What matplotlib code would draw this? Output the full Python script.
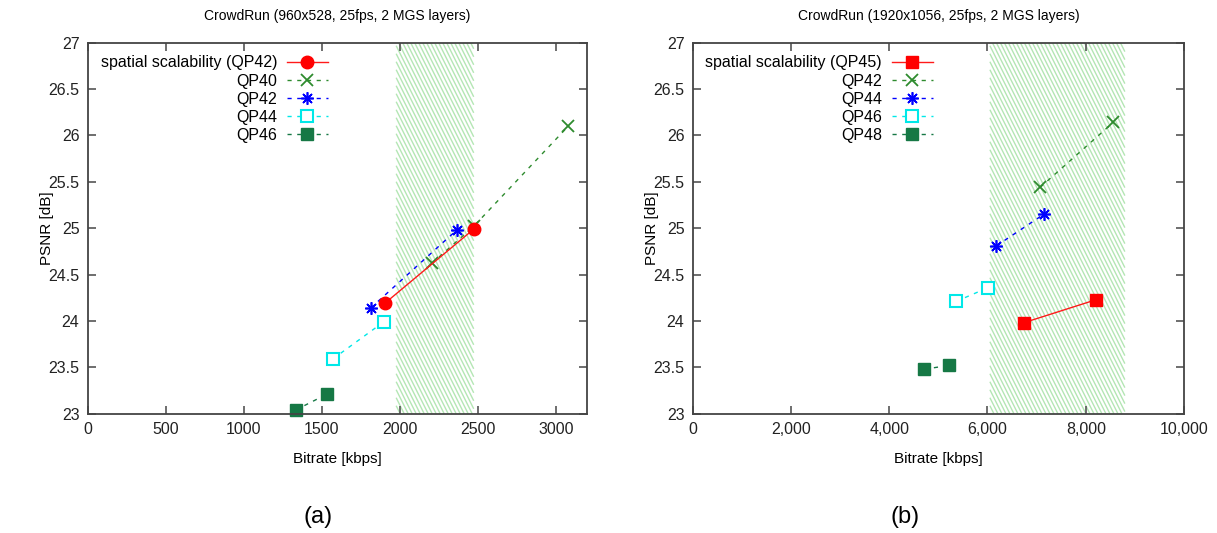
import matplotlib
matplotlib.use("Agg")
import numpy as np
import matplotlib.pyplot as plt
from matplotlib.collections import LineCollection
from matplotlib.ticker import FuncFormatter, MultipleLocator

plt.rcParams['font.family'] = ['Liberation Sans', 'DejaVu Sans']

# (a) CrowdRun 960x528: bitrate [kbps] and PSNR [dB]
a_labels = ['spatial scalability (QP42)', 'QP40', 'QP42', 'QP44', 'QP46']
a_rate = [
    [1904, 2474],
    [2205, 2474, 3080],
    [1814, 2365],
    [1571, 1897],
    [1333, 1532],
]
a_psnr = [
    [24.19, 24.99],
    [24.62, 25.02, 26.10],
    [24.14, 24.98],
    [23.59, 23.99],
    [23.04, 23.21],
]
a_band = (1977, 2474)

# (b) CrowdRun 1920x1056
b_labels = ['spatial scalability (QP45)', 'QP42', 'QP44', 'QP46', 'QP48']
b_rate = [
    [6733, 8215],
    [7071, 8557],
    [6182, 7145],
    [5360, 6014],
    [4713, 5212],
]
b_psnr = [
    [23.98, 24.23],
    [25.44, 26.14],
    [24.81, 25.15],
    [24.21, 24.36],
    [23.48, 23.52],
]
b_band = (6049, 8796)

dash = (0, (3, 4))
qp_styles = [
    dict(color='#2e8b2e', ls=dash, marker='x', ms=9, mew=1.3),
    dict(color='#0000ff', ls=dash, marker=(8, 2, 0), ms=9, mew=1.2),
    dict(color='#00e8e8', ls=dash, marker='s', ms=8, mfc='white', mew=1.5),
    dict(color='#167845', ls=dash, marker='s', ms=8.5, mfc='#167845', mec='#167845'),
]
a_styles = [dict(color='#ff1a1a', ls='-', marker='o', ms=9, mfc='#ff0000',
                 mec='#ff0000', zorder=5)] + qp_styles
b_styles = [dict(color='#ff1a1a', ls='-', marker='s', ms=8.5, mfc='#ff0000',
                 mec='#ff0000', zorder=5)] + qp_styles


def striped_band(ax, x0, x1, xmax):
    # steep light-green stripes filling the band, spaced in pixels
    box = ax.get_window_extent()
    upx = xmax / box.width          # data units per pixel
    drift = 0.5 * box.height * upx  # horizontal shift from top to bottom
    step = 4.0 * upx
    segs = []
    for s in np.arange(x0 - drift, x1 + step, step):
        t0 = max(0.0, (x0 - s) / drift)
        t1 = min(1.0, (x1 - s) / drift)
        if t1 <= t0:
            continue
        segs.append([(s + drift * t0, 1 - t0), (s + drift * t1, 1 - t1)])
    lc = LineCollection(segs, colors='#b4e6b4', linewidths=1.0,
                        transform=ax.get_xaxis_transform(), zorder=0)
    ax.add_collection(lc, autolim=False)


def draw_panel(ax, title, labels, rates, psnrs, styles, band, xmax, xstep, comma):
    ax.set_xlim(0, xmax)
    ax.set_ylim(23, 27)
    striped_band(ax, band[0], band[1], xmax)
    for lab, x, y, st in zip(labels, rates, psnrs, styles):
        ax.plot(x, y, lw=1.0, label=lab, clip_on=False, **st)
    ax.set_xlim(0, xmax)
    ax.set_ylim(23, 27)
    ax.xaxis.set_major_locator(MultipleLocator(xstep))
    ax.yaxis.set_major_locator(MultipleLocator(0.5))
    if comma:
        ax.xaxis.set_major_formatter(FuncFormatter(lambda v, p: f'{v:,.0f}'))
    else:
        ax.xaxis.set_major_formatter(FuncFormatter(lambda v, p: f'{v:.0f}'))
    ax.yaxis.set_major_formatter(FuncFormatter(lambda v, p: f'{v:g}'))
    ax.tick_params(direction='in', length=6, width=1.2, color='#555555',
                   top=True, right=True, labelsize=11.5, labelcolor='#222222', pad=6)
    for s in ax.spines.values():
        s.set_color('#444444')
        s.set_linewidth(1.3)
    ax.set_title(title, fontsize=10, pad=16)
    ax.set_xlabel('Bitrate [kbps]', fontsize=11, labelpad=11)
    ax.set_ylabel('PSNR [dB]', fontsize=11, labelpad=-4)
    ax.legend(loc='upper left', bbox_to_anchor=(0.0, 1.0), frameon=False,
              markerfirst=False, fontsize=11.5, handlelength=2.6,
              labelspacing=0.19, borderaxespad=0.3, borderpad=0.5,
              handletextpad=0.6)


fig = plt.figure(figsize=(12.17, 5.33), dpi=100)
ax1 = fig.add_axes([0.0721, 0.2238, 0.4102, 0.6961])
ax2 = fig.add_axes([0.5692, 0.2238, 0.4037, 0.6961])

draw_panel(ax1, 'CrowdRun (960x528, 25fps, 2 MGS layers)', a_labels,
           a_rate, a_psnr, a_styles, a_band, 3200, 500, False)
draw_panel(ax2, 'CrowdRun (1920x1056, 25fps, 2 MGS layers)', b_labels,
           b_rate, b_psnr, b_styles, b_band, 10000, 2000, True)

fig.text(0.261, 0.030, '(a)', fontsize=17, ha='center', va='center')
fig.text(0.744, 0.030, '(b)', fontsize=17, ha='center', va='center')

fig.savefig('out.png', dpi=100)
